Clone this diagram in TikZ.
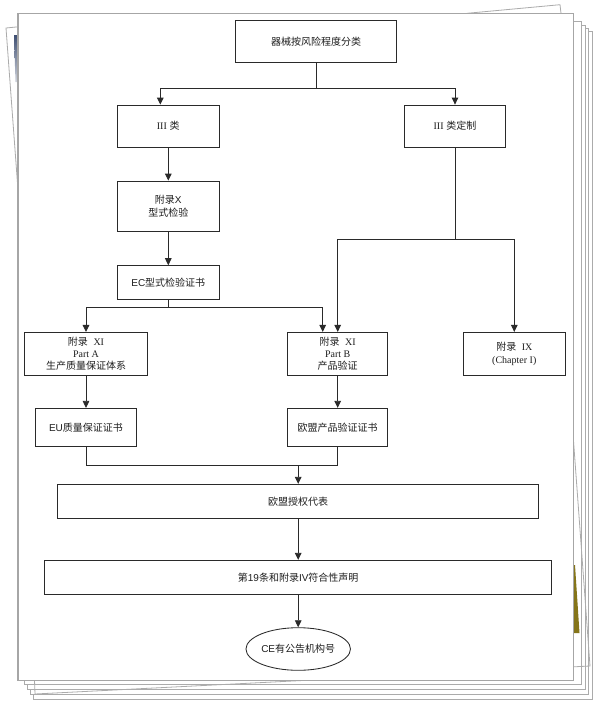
\documentclass[tikz,border=0pt]{standalone}
\usepackage{fontspec}
\setmainfont{Liberation Sans}
\newfontfamily\cjk{Noto Sans CJK SC}
\newfontfamily\serifl{Liberation Serif}
\usetikzlibrary{arrows.meta,shapes.geometric}
\newcommand\zh[1]{{\cjk #1}}
\newcommand\rl[1]{{\serifl #1}}
\definecolor{boxc}{HTML}{2A2A2A}
\definecolor{linec}{HTML}{2A2A2A}
\definecolor{txtc}{HTML}{1E1E1E}
\definecolor{sheetc}{HTML}{ABABAB}
\definecolor{pagec}{HTML}{A6A6A6}
\definecolor{navyc}{HTML}{3F4F72}
\definecolor{olivec}{HTML}{857519}
\tikzset{
  ln/.style={draw=linec, line width=0.85pt},
  arr/.style={ln, -{Triangle[length=7pt,width=6.6pt]}},
  box/.style={draw=boxc, line width=0.85pt, fill=white, align=center, inner sep=0pt,
    text=txtc, font=\fontsize{10}{12.2}\selectfont},
  oval/.style={box, ellipse},
  sheet/.style={draw=sheetc, line width=0.8pt, fill=white},
  sheetedge/.style={draw=sheetc, line width=0.8pt},
  page/.style={draw=pagec, line width=1.2pt, fill=white}
}
\begin{document}
\begin{tikzpicture}[x=1pt,y=-1pt]
\useasboundingbox (0,0) rectangle (600,702);
\fill[white] (0,0) rectangle (600,702);
% stacked sheets
\draw[sheet] (33,31.7) rectangle (592.7,699.3);
\draw[sheet] (30,28.3) rectangle (588.3,694.3);
\draw[sheet] (27,25) rectangle (585,689.3);
\draw[sheet] (24,21.7) rectangle (581.7,684.3);
% tilted sheet edges
\draw[sheetedge] (18,190) -- (6,28) -- (18,26.8);
\draw[sheetedge] (467,13.3) -- (560,4.7) -- (561,13.3);
\draw[sheetedge] (573,434) -- (590,666) -- (35,694) -- (34.5,680);
\shade[top color=navyc, bottom color=navyc!25] (14,35) -- (18,35) -- (18,82) -- (15.5,82) -- cycle;
\fill[olivec] (573.3,565) -- (575,565) -- (579.5,633) -- (573.3,633) -- cycle;
% main page
\draw[page] (18,13.3) rectangle (573.3,680.3);

% nodes
\node[box, minimum width=161pt, minimum height=41.6pt] (top) at (316.2,41.5) {\zh{器械按风险程度分类}};
\node[box, minimum width=101.3pt, minimum height=42pt] (c3) at (168.3,126) {\rl{III} \zh{类}};
\node[box, minimum width=101.4pt, minimum height=42pt] (c3c) at (455,126) {\rl{III} \zh{类定制}};
\node[box, minimum width=101.3pt, minimum height=50.3pt] (ax) at (168.3,206.2) {\zh{附录}X\\\zh{型式检验}};
\node[box, minimum width=101.3pt, minimum height=33.3pt] (ec) at (168.3,282.3) {EC\zh{型式检验证书}};
\node[box, minimum width=122.3pt, minimum height=42.7pt] (pa) at (86,353.7) {\zh{附录}\ \ \rl{XI}\\\rl{Part A}\\\zh{生产质量保证体系}};
\node[box, minimum width=100pt, minimum height=42.7pt] (pb) at (337.7,353.7) {\zh{附录}\ \ \rl{XI}\\\rl{Part B}\\\zh{产品验证}};
\node[box, minimum width=102pt, minimum height=42.7pt, font=\fontsize{10}{13.6}\selectfont] (ix) at (514.3,353.7) {\zh{附录}\ \ \rl{IX}\\\rl{(Chapter I)}};
\node[box, minimum width=101.7pt, minimum height=38.4pt] (eu) at (86,427.5) {EU\zh{质量保证证书}};
\node[box, minimum width=100pt, minimum height=38.4pt] (euc) at (337.7,427.5) {\zh{欧盟产品验证证书}};
\node[box, minimum width=481pt, minimum height=34pt] (rep) at (298.2,501.3) {\zh{欧盟授权代表}};
\node[box, minimum width=506.7pt, minimum height=34pt] (decl) at (298.2,577.3) {\zh{第}19\zh{条和附录}IV\zh{符合性声明}};
\node[oval, minimum width=102.3pt, minimum height=42.6pt] (ce) at (298.2,649) {CE\zh{有公告机构号}};

% junctions
\coordinate (j1) at (316.2,88.3);
\coordinate (j2) at (168.3,307.3);
\coordinate (j3) at (455,239.7);
\coordinate (j4) at (298.2,465.7);

% connectors
\draw[ln] (top.south) -- (j1);
\draw[arr] (j1) -| ([xshift=-8pt]c3.north);
\draw[arr] (j1) -| (c3c.north);
\draw[arr] (c3.south) -- (ax.north);
\draw[arr] (ax.south) -- (ec.north);
\draw[ln] (ec.south) -- (j2);
\draw[arr] (j2) -| (pa.north);
\draw[arr] (j2) -| ([xshift=-15pt]pb.north);
\draw[ln] (c3c.south) -- (j3);
\draw[arr] (j3) -| (pb.north);
\draw[arr] (j3) -| (ix.north);
\draw[arr] (pa.south) -- (eu.north);
\draw[arr] (pb.south) -- (euc.north);
\draw[ln] (eu.south) |- (j4) -| (euc.south);
\draw[arr] (j4) -- (rep.north);
\draw[arr] (rep.south) -- (decl.north);
\draw[arr] (decl.south) -- (ce.north);
\end{tikzpicture}
\end{document}
